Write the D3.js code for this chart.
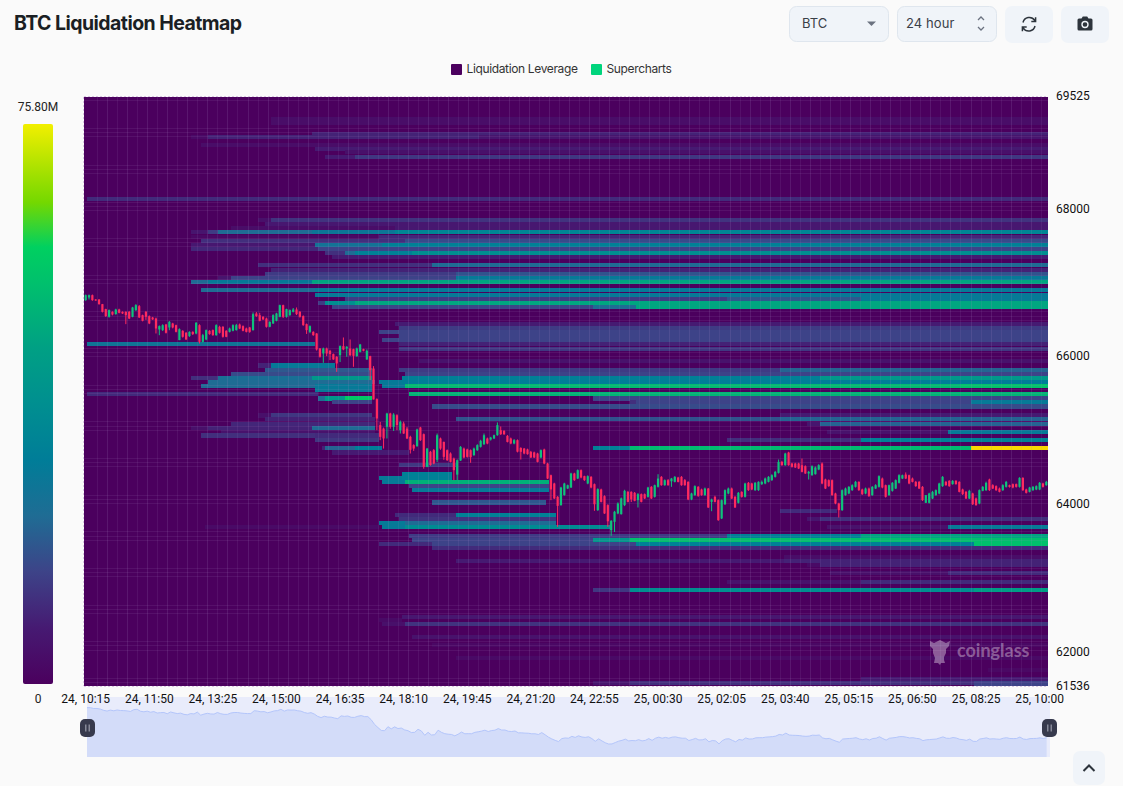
<!DOCTYPE html>
<html><head><meta charset="utf-8"><title>BTC Liquidation Heatmap</title>
<script src="https://cdn.jsdelivr.net/npm/d3@7/dist/d3.min.js"></script>
<style>html,body{margin:0;padding:0;background:#fafafa;overflow:hidden}svg{display:block}text{font-family:Inter,sans-serif}.ax text{font-family:Roboto,sans-serif;font-size:12px;fill:#111}</style>
</head><body><svg id="c" width="1123" height="786"></svg>
<script>
const timeLabels=["24, 10:15","24, 11:50","24, 13:25","24, 15:00","24, 16:35","24, 18:10","24, 19:45","24, 21:20","24, 22:55","25, 00:30","25, 02:05","25, 03:40","25, 05:15","25, 06:50","25, 08:25","25, 10:00"];
const priceTicks=[61536,62000,64000,66000,68000,69525];
const legendNames=["Liquidation Leverage","Supercharts"];
const maxLabel="75.80M", minLabel="0";
const slotCount=288, priceMin=61536, priceMax=69525;
const colorStops=[0,.1,.2,.3,.4,.5,.6,.7,.78,.86,1,1.01];
const colorValues=["#4b005e","#461a72","#3d4388","#1f6c94","#007d98","#008f90","#00a084","#00bc70","#00d060","#74d800","#f2ef00","#f9d800"];

// [price, first slot, end slot, share of the colour scale]
const liqBands=[
[69195,56,288,.05],[69147,56,288,.05],[69005,68,288,.12],[68958,32,37,.04],[68958,37,118,.12],[68958,118,288,.08],
[68850,35,288,.05],[68796,69,288,.1],[68755,78,288,.06],[68688,72,81,.1],[68688,81,288,.17],[68127,1,288,.14],
[67837,52,56,.06],[67837,56,288,.16],[67783,54,288,.09],[67729,44,93,.05],[67729,93,288,.09],
[67675,32,37,.08],[67675,37,40,.18],[67675,40,68,.3],[67675,68,93,.36],[67675,93,288,.45],[67614,32,88,.03],[67614,88,288,.13],
[67560,35,96,.15],[67560,96,288,.22],[67503,32,69,.09],[67503,69,89,.34],[67503,89,288,.42],[67449,32,70,.13],[67449,70,288,.2],
[67391,72,78,.15],[67391,78,81,.3],[67391,81,98,.42],[67391,98,288,.5],[67340,74,288,.1],[67229,52,104,.15],[67229,104,288,.3],
[67168,56,288,.12],[67111,54,111,.18],[67111,111,288,.24],[67057,40,44,.08],[67057,44,111,.2],[67057,111,288,.38],
[67006,32,37,.3],[67006,37,68,.38],[67006,68,288,.62],[66891,35,69,.3],[66891,69,288,.38],[66828,69,288,.38],
[66774,78,192,.18],[66774,192,232,.25],[66774,232,288,.38],[66716,70,72,.18],[66716,72,81,.5],[66716,81,288,.62],
[66664,74,152,.2],[66664,152,165,.3],[66664,165,288,.62],
[66439,93,288,.1],[66380,94,288,.18],[66326,88,288,.2],[66274,94,288,.2],[66222,89,288,.2],[66168,1,69,.35],[66168,94,288,.12],
[66101,94,288,.17],[65936,100,288,.07],[65874,52,56,.12],[65874,56,75,.38],[65817,54,86,.25],[65817,94,208,.18],[65817,208,288,.28],
[65760,44,86,.22],[65760,96,288,.2],[65705,32,40,.15],[65705,40,68,.32],[65705,68,86,.55],[65705,95,220,.42],[65705,220,288,.55],
[65651,37,87,.3],[65651,88,95,.38],[65651,95,288,.4],[65597,35,69,.3],[65597,69,86,.38],[65597,89,96,.38],[65597,96,262,.7],[65597,262,288,.73],
[65544,69,86,.38],[65486,1,70,.14],[65486,97,288,.68],[65428,70,72,.3],[65428,72,78,.55],[65428,78,86,.75],[65428,152,288,.2],
[65378,74,86,.2],[65378,163,165,.15],[65378,165,265,.2],[65378,265,288,.38],[65320,104,288,.22],
[65198,52,56,.06],[65198,56,86,.17],[65198,208,288,.1],[65146,54,87,.12],[65146,111,208,.24],[65146,208,288,.28],
[65088,44,87,.13],[65088,216,220,.08],[65088,220,288,.28],[65031,32,37,.06],[65031,37,68,.12],[65031,68,87,.3],
[64979,41,87,.07],[64979,222,258,.07],[64979,258,288,.38],[64928,35,69,.15],[64928,69,88,.14],[64870,69,88,.17],[64870,192,232,.15],[64870,232,288,.42],
[64757,71,72,.12],[64757,72,81,.28],[64757,81,89,.4],[64757,152,163,.42],[64757,163,265,.7],[64757,265,288,1.01],
[64698,74,97,.1],[64531,94,111,.17],[64409,95,110,.42],[64355,88,95,.38],[64355,95,110,.42],[64301,89,96,.38],[64301,96,139,.66],
[64246,97,139,.2],[64193,98,139,.38],[64023,104,138,.25],[63912,208,225,.14],[63849,93,111,.14],[63849,111,141,.42],
[63797,94,141,.16],[63797,216,220,.08],[63797,220,288,.15],[63743,88,96,.38],[63743,96,141,.3],
[63689,36,88,.04],[63689,89,96,.38],[63689,96,157,.48],[63689,222,258,.07],[63689,258,288,.38],
[63574,97,192,.18],[63574,192,232,.42],[63574,232,288,.62],[63516,98,152,.2],[63516,152,163,.55],[63516,163,288,.72],
[63464,88,104,.14],[63464,104,165,.2],[63464,165,266,.42],[63464,266,288,.72],[63412,104,288,.14],
[63284,209,288,.05],[63237,111,209,.1],[63237,209,288,.12],[63180,216,220,.04],[63180,220,288,.12],
[63072,223,258,.06],[63072,258,288,.14],[62950,192,232,.07],[62950,232,288,.14],[62838,152,163,.17],[62838,163,266,.5],[62838,266,288,.58],
[62483,95,288,.09],[62433,88,95,.04],[62386,89,96,.06],[62386,96,288,.16],[62213,98,288,.07],[62102,104,288,.03],[61923,111,288,.04],
[61757,270,288,.03],[61639,232,288,.1],[61586,152,163,.08],[61586,163,266,.15],[61586,266,288,.2],[61550,266,288,.2]
];

const opens=[66756,66792,66823,66765,66765,66702,66635,66531,66598,66567,
66630,66598,66598,66598,66531,66621,66675,66553,66598,66540,
66522,66508,66360,66351,66427,66387,66441,66418,66216,66342,
66315,66270,66328,66306,66418,66193,66225,66342,66351,66283,
66396,66396,66342,66328,66342,66351,66427,66405,66373,66387,
66351,66576,66553,66531,66508,66396,66441,66477,66531,66688,
66531,66553,66598,66630,66598,66540,66432,66328,66328,66306,
66103,66036,66103,66072,66027,65991,66013,66135,66103,66103,
66094,66000,66058,66094,65955,66000,65833,65420,65068,65022,
65045,65225,65045,65202,65000,65090,65022,64910,64798,64785,
65036,64946,64505,64708,64730,64600,64888,64842,64730,64685,
64617,64400,64590,64752,64740,64730,64662,64730,64775,64811,
64888,64874,64888,64932,65000,64991,64923,64888,64820,64865,
64760,64752,64740,64708,64700,64685,64631,64739,64550,64392,
64280,64100,63988,64123,64212,64226,64415,64347,64460,64379,
64280,64370,64271,63920,64199,64109,63988,63650,63763,63875,
63866,63988,64167,64167,64154,64055,64136,64136,64100,64235,
64100,64235,64370,64257,64325,64310,64302,64361,64370,64325,
64302,64064,64122,64235,64199,64122,64212,64032,64100,64055,
63808,64000,64145,64212,64100,64019,64167,64100,64289,64280,
64190,64190,64271,64280,64302,64325,64370,64424,64572,64527,
64698,64550,64550,64550,64527,64514,64415,64392,64406,64469,
64550,64334,64325,64325,64145,64010,63920,64122,64145,64190,
64235,64302,64199,64145,64212,64122,64212,64235,64347,64257,
64122,64181,64212,64289,64347,64401,64392,64347,64302,64302,
64235,64019,64019,64077,64122,64145,64244,64302,64316,64271,
64316,64302,64199,64167,64077,64145,64077,64010,64181,64190,
64334,64257,64244,64212,64190,64235,64257,64271,64271,64235,
64356,64199,64167,64190,64199,64199,64280,64257];
const closes=[66823,66823,66756,66756,66702,66598,66540,66621,66562,66630,
66585,66576,66553,66508,66657,66688,66522,66477,66531,66441,
66495,66373,66405,66418,66315,66463,66387,66328,66364,66261,
66225,66328,66297,66450,66193,66283,66351,66297,66283,66418,
66315,66261,66261,66373,66418,66418,66373,66342,66328,66328,
66567,66540,66477,66495,66396,66463,66553,66576,66688,66531,
66635,66621,66630,66567,66531,66418,66351,66405,66283,66090,
65991,66103,66036,66027,65955,65901,66135,66090,66126,66013,
66004,66103,66157,66072,66072,65810,65415,65158,64910,64888,
65225,65045,65211,65070,65112,64955,64888,64735,64752,65009,
64865,64505,64752,64530,64550,64932,64752,64640,64595,64572,
64460,64595,64775,64631,64640,64635,64752,64798,64856,64932,
64820,64900,64932,65068,64946,64946,64842,64820,64865,64710,
64708,64685,64676,64631,64631,64572,64730,64550,64347,64200,
64078,63978,64226,64280,64257,64415,64325,64460,64361,64325,
64379,64226,64000,64204,64032,63875,63770,63776,63898,64010,
64078,64181,64032,64065,64046,64136,64032,64078,64226,64078,
64257,64347,64257,64325,64257,64347,64370,64302,64257,64257,
64064,64145,64244,64113,64122,64212,63956,64064,64032,63785,
64055,64190,64212,64077,63956,64154,64100,64280,64190,64199,
64289,64302,64302,64347,64370,64392,64437,64572,64527,64685,
64527,64505,64496,64482,64437,64415,64437,64514,64496,64527,
64280,64212,64244,64122,64010,63920,64190,64212,64235,64257,
64302,64190,64136,64212,64109,64235,64257,64379,64226,64100,
64257,64289,64325,64392,64392,64347,64280,64302,64244,64212,
64055,64122,64145,64167,64190,64280,64370,64257,64244,64316,
64271,64167,64136,64077,64181,64000,63987,64190,64235,64289,
64190,64212,64190,64167,64257,64302,64235,64226,64235,64356,
64190,64154,64226,64235,64244,64289,64235,64302];
const highs=[66832,66832,66832,66770,66770,66705,66640,66630,66605,66640,
66640,66604,66605,66610,66665,66702,66690,66560,66610,66550,
66530,66520,66415,66430,66435,66475,66450,66425,66375,66350,
66325,66335,66335,66460,66430,66300,66360,66350,66360,66430,
66410,66405,66350,66385,66430,66435,66440,66415,66385,66395,
66590,66595,66585,66540,66520,66470,66565,66585,66695,66695,
66640,66630,66650,66657,66610,66550,66440,66415,66335,66310,
66110,66115,66115,66085,66035,66000,66145,66252,66135,66225,
66100,66115,66165,66100,66090,66005,65865,65430,65112,65035,
65235,65235,65230,65215,65130,65115,65045,64925,64810,65020,
65045,64955,64760,64720,64745,64955,64900,64845,64740,64700,
64630,64605,64785,64765,64750,64740,64765,64810,64870,64955,
64900,64910,64940,65105,65050,65000,64935,64900,64880,64875,
64770,64760,64750,64720,64710,64695,64740,64750,64560,64400,
64290,64110,64235,64290,64265,64425,64425,64470,64470,64385,
64390,64380,64280,64215,64210,64120,64000,63785,63910,64025,
64090,64195,64180,64175,64165,64150,64145,64145,64235,64245,
64265,64405,64380,64335,64340,64355,64380,64370,64380,64340,
64310,64155,64255,64245,64210,64225,64220,64075,64115,64065,
64065,64200,64225,64225,64110,64165,64175,64290,64300,64290,
64300,64310,64320,64360,64380,64405,64450,64604,64585,64695,
64708,64560,64560,64560,64617,64525,64450,64525,64510,64540,
64565,64345,64335,64335,64155,64020,64200,64225,64245,64270,
64315,64310,64210,64225,64225,64245,64270,64390,64360,64265,
64265,64300,64335,64405,64400,64430,64400,64360,64315,64315,
64245,64125,64155,64180,64200,64290,64380,64315,64325,64325,
64325,64310,64210,64180,64195,64155,64090,64200,64245,64305,
64345,64270,64255,64225,64270,64315,64265,64280,64280,64365,
64365,64210,64235,64245,64255,64300,64290,64315];
const lows=[66747,66765,66747,66747,66695,66590,66530,66520,66550,66560,
66578,66570,66432,66500,66525,66610,66515,66470,66490,66432,
66490,66306,66283,66340,66306,66350,66375,66320,66216,66250,
66220,66260,66285,66295,66171,66185,66215,66290,66275,66275,
66305,66250,66255,66320,66335,66345,66365,66335,66320,66315,
66345,66530,66470,66490,66385,66390,66435,66470,66525,66515,
66520,66545,66590,66555,66520,66410,66300,66310,66275,66075,
65980,65910,66000,65946,65950,65788,65920,66080,65991,66000,
65856,65991,66050,66065,65950,65676,65415,65000,64865,64752,
64888,65020,64990,65000,64955,64950,64880,64685,64720,64775,
64855,64480,64500,64520,64540,64570,64735,64600,64585,64565,
64325,64325,64585,64620,64630,64560,64655,64720,64765,64800,
64810,64860,64880,64925,64935,64935,64835,64810,64810,64700,
64604,64675,64670,64625,64625,64565,64620,64540,64340,64055,
64070,63695,63980,64115,64205,64220,64315,64340,64350,64315,
64270,64215,63911,63910,64025,63870,63695,63574,63625,63865,
63860,63975,64025,64030,64040,63956,64025,64070,64090,64070,
64090,64225,64250,64250,64250,64235,64295,64295,64250,64250,
64055,64055,64115,64100,64115,64115,63950,63906,64025,63776,
63800,63990,64135,64070,63950,64010,64090,64090,64180,64190,
64180,64180,64260,64270,64295,64315,64360,64415,64520,64520,
64520,64495,64490,64475,64430,64410,64334,64385,64400,64460,
64270,64205,64235,64115,64000,63821,63910,64115,64135,64180,
64225,64180,64125,64135,64100,64115,64205,64225,64215,64090,
64115,64170,64205,64280,64340,64340,64270,64295,64235,64205,
64045,64019,64010,64070,64115,64135,64235,64250,64235,64265,
64265,64160,64125,64070,64070,63990,63980,64000,64175,64180,
64180,64205,64180,64160,64180,64225,64225,64215,64225,64225,
64180,64145,64160,64180,64190,64190,64225,64250];

const svg=d3.select("#c");
const plot={left:84,right:1048,top:97,bottom:686};
const x=d3.scaleBand().domain(d3.range(slotCount)).range([plot.left,plot.right]);
const y=d3.scaleLinear().domain([priceMin,priceMax]).range([686.7,95.1]);
const yTicks=d3.scaleLinear().domain([priceMin,priceMax]).range([685.2,95.1]);
const color=d3.scaleLinear().domain(colorStops).range(colorValues).interpolate(d3.interpolateRgb);
const rowH=4.1;

const defs=svg.append("defs");
defs.append("clipPath").attr("id","plotClip").append("rect").attr("x",plot.left).attr("y",plot.top).attr("width",plot.right-plot.left).attr("height",plot.bottom-plot.top);
const heat=svg.append("g").attr("clip-path","url(#plotClip)").attr("shape-rendering","crispEdges");
heat.append("rect").attr("x",plot.left).attr("y",plot.top).attr("width",plot.right-plot.left).attr("height",plot.bottom-plot.top).attr("fill",color(0));
heat.selectAll(".b").data(liqBands).join("rect").attr("class","b")
 .attr("x",d=>x(d[1])).attr("width",d=>(d[2]>=slotCount?plot.right:x(d[2]))-x(d[1]))
 .attr("y",d=>y(d[0])-rowH/2).attr("height",rowH).attr("fill",d=>color(d[3]));

// faint cell seams
const seamCols=d3.range(4,slotCount,3);
const seamRows=d3.range(0,145).filter(k=>k%9<3).map(k=>priceMin+k*55);
const seams=svg.append("g").attr("clip-path","url(#plotClip)").attr("shape-rendering","crispEdges").attr("stroke","#a987c6");
seams.selectAll(".v").data(seamCols).join("line").attr("class","v").attr("x1",i=>x(i)).attr("x2",i=>x(i)).attr("y1",plot.top).attr("y2",plot.bottom).attr("stroke-opacity",i=>i%2?.17:.11);
seams.selectAll(".h").data(seamRows).join("line").attr("class","h").attr("x1",plot.left).attr("x2",plot.right).attr("y1",p=>y(p)).attr("y2",p=>y(p)).attr("stroke-opacity",.12);

// frame dashes
const frame=svg.append("g").attr("fill","none").attr("stroke","#d9c8e2").attr("stroke-dasharray","2 2");
frame.append("line").attr("x1",plot.left).attr("x2",plot.right).attr("y1",plot.top-.5).attr("y2",plot.top-.5);
frame.append("line").attr("x1",plot.left-.5).attr("x2",plot.left-.5).attr("y1",plot.top).attr("y2",plot.bottom);
frame.append("line").attr("x1",plot.left).attr("x2",plot.right).attr("y1",plot.bottom+.5).attr("y2",plot.bottom+.5);

// candles
const candleColor=i=>closes[i]>=opens[i]?"#0fc27c":"#ff2a5f";
const idx=d3.range(Math.min(slotCount,closes.length));
const cg=svg.append("g");
cg.selectAll("line").data(idx).join("line")
 .attr("x1",i=>x(i)+x.step()/2).attr("x2",i=>x(i)+x.step()/2)
 .attr("y1",i=>y(highs[i])).attr("y2",i=>y(lows[i])).attr("stroke",candleColor).attr("stroke-width",1);
cg.selectAll("rect").data(idx).join("rect")
 .attr("x",i=>x(i)+x.step()/2-1.1).attr("width",2.2)
 .attr("y",i=>Math.min(y(opens[i]),y(closes[i])))
 .attr("height",i=>Math.max(1,Math.abs(y(opens[i])-y(closes[i])))).attr("fill",candleColor);

// axes
const yAxis=d3.axisRight(yTicks).tickValues(priceTicks).tickFormat(d3.format("d")).tickSize(0).tickPadding(0);
svg.append("g").attr("class","ax").attr("transform","translate(1056,0.5)").call(yAxis).call(g=>g.select(".domain").remove());
const xAxis=d3.axisBottom(x).tickValues(d3.range(timeLabels.length).map(i=>i*19)).tickFormat((d,i)=>timeLabels[i]).tickSize(0).tickPadding(0);
svg.append("g").attr("class","ax").attr("transform","translate(0,694)").call(xAxis).call(g=>g.select(".domain").remove());

// colour bar
const barStops=colorStops.filter(d=>d<=1);
const grad=defs.append("linearGradient").attr("id","bar").attr("x1",0).attr("x2",0).attr("y1",1).attr("y2",0);
grad.selectAll("stop").data(barStops).join("stop").attr("offset",d=>d).attr("stop-color",d=>color(d));
svg.append("rect").attr("x",23).attr("y",124).attr("width",30).attr("height",560).attr("rx",2).attr("fill","url(#bar)");
svg.append("text").attr("x",38).attr("y",111).attr("text-anchor","middle").attr("style","font-family:Roboto;font-size:12px;fill:#222").text(maxLabel);
svg.append("text").attr("x",38).attr("y",703).attr("text-anchor","middle").attr("style","font-family:Roboto;font-size:12px;fill:#222").text(minLabel);

// title and legend
svg.append("text").attr("x",14).attr("y",30).attr("font-size",19.5).attr("font-weight",700).attr("letter-spacing","-0.55").attr("fill","#1b1f24").text("BTC Liquidation Heatmap");
const legendColors=[color(0),"#00d47c"], legendX=[451,591];
legendNames.forEach((n,i)=>{
 svg.append("rect").attr("x",legendX[i]).attr("y",64).attr("width",11).attr("height",11).attr("rx",1).attr("fill",legendColors[i]);
 svg.append("text").attr("x",legendX[i]+15.5).attr("y",73).attr("font-size",12).attr("letter-spacing","-0.36").attr("fill","#333").text(n);
});

// controls
function box(xp,yp,w,h,stroke){svg.append("rect").attr("x",xp).attr("y",yp).attr("width",w).attr("height",h).attr("rx",7).attr("fill","#f0f4f9").attr("stroke",stroke||"none");}
box(789.5,6.5,99,35,"#dfe6ee");box(897.5,6.5,99,35,"#dfe6ee");box(1005,6,48,37);box(1061,6,48,37);box(1073,751,32,34);
svg.append("text").attr("x",802).attr("y",28).attr("font-size",13).attr("fill","#3a4048").text("BTC");
svg.append("text").attr("x",906).attr("y",28).attr("font-size",13).attr("letter-spacing","0.1").attr("fill","#3a4048").text("24 hour");
svg.append("path").attr("d","M867 21.5h9l-4.5 4.5z").attr("fill","#6b7280");
svg.append("path").attr("d","M978 20l3-3 3 3M978 27l3 3 3-3").attr("fill","none").attr("stroke","#6b7280").attr("stroke-width",1.3);
svg.append("path").attr("d","M1023 22.5a6.5 6.5 0 0 1 11.7-2.2l.9 1.2M1035 26a6.5 6.5 0 0 1-11.7 2.2l-.9-1.2M1035.6 17.3v4.3h-4.3M1022.4 31.2v-4.3h4.3").attr("fill","none").attr("stroke","#2d343c").attr("stroke-width",1.5);
svg.append("path").attr("d","M1079 18.5h2.5l1.3-2h4.4l1.3 2h2.5a1.5 1.5 0 0 1 1.5 1.5v9a1.5 1.5 0 0 1-1.5 1.5h-12a1.5 1.5 0 0 1-1.5-1.5v-9a1.5 1.5 0 0 1 1.5-1.5z").attr("fill","#2d343c");
svg.append("circle").attr("cx",1085).attr("cy",24.5).attr("r",3).attr("fill","none").attr("stroke","#f0f4f9").attr("stroke-width",1.4);
svg.append("path").attr("d","M1083.5 771l5.5-5.5 5.5 5.5").attr("fill","none").attr("stroke","#2d343c").attr("stroke-width",2);

// watermark
const wm=svg.append("g").attr("fill","#fff").attr("fill-opacity",.36);
wm.append("path").attr("d","M930 641l4 2 6-3 6 3 4-2-1 5-3 3v4l-2 4v3l1 3h-4l-1 2-2-2h-4l1-5-2-5v-4l-3-3z");
wm.append("text").attr("x",957).attr("y",657).attr("style","font-family:Lato,sans-serif;font-weight:700;font-size:18px").text("coinglass");

// range slider
const sx=d3.scaleBand().domain(idx).range([87,1050]);
const sy=d3.scaleLinear().domain([62680,67720]).range([757,697]);
svg.append("rect").attr("x",87).attr("y",697).attr("width",963).attr("height",60).attr("fill","#e9ecfb");
svg.append("path").datum(idx).attr("fill","#d3dcf9").attr("d",d3.area().x(i=>sx(i)).y0(757).y1(i=>sy(closes[i])));
svg.append("path").datum(idx).attr("fill","none").attr("stroke","#b4c6fb").attr("d",d3.line().x(i=>sx(i)).y(i=>sy(closes[i])));
svg.selectAll(".ax").raise();
[87.5,1049.5].forEach(cx=>{
 svg.append("rect").attr("x",cx-7.5).attr("y",719).attr("width",15).attr("height",18).attr("rx",5).attr("fill","#373a4d");
 svg.append("path").attr("d",`M${cx-1.7} 724.5v7M${cx+1.7} 724.5v7`).attr("stroke","#9a9dab").attr("stroke-width",1.2);
});
</script></body></html>
